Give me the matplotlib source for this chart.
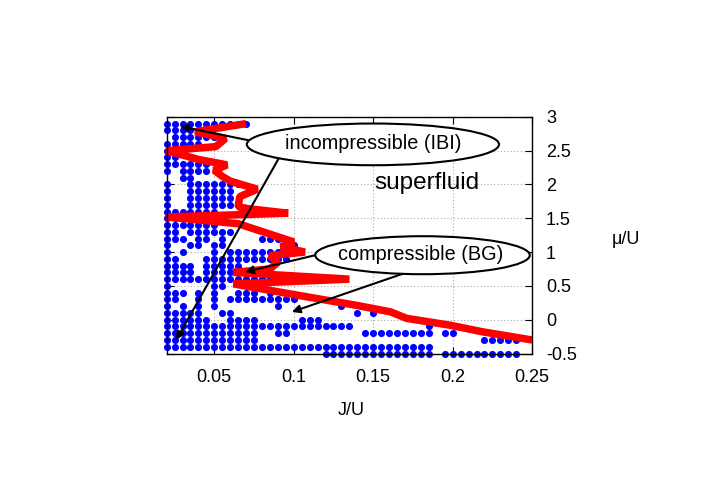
import numpy as np
import matplotlib
matplotlib.use("Agg")
import matplotlib.pyplot as plt
from matplotlib.patches import Ellipse

plt.rcParams['font.family'] = ['Liberation Sans', 'DejaVu Sans']

# ---- data -------------------------------------------------------------
J_start = 0.02
J_step = 0.005
# rows of the dot grid: mu value and list of (first, last) column indices
mu_rows = [2.9, 2.8, 2.7, 2.6, 2.5, 2.4, 2.3, 2.2, 2.1, 2.0, 1.9, 1.8, 1.7,
           1.6, 1.5, 1.4, 1.3, 1.2, 1.1, 1.0, 0.9, 0.8, 0.7, 0.6, 0.5, 0.4,
           0.3, 0.2, 0.1, 0.0, -0.1, -0.2, -0.3, -0.4, -0.5]
row_cols = [
    [(0, 10)],
    [(0, 3)],
    [(1, 6)],
    [(0, 4)],
    [(0, 2)],
    [(0, 1)],
    [(0, 5)],
    [(0, 0), (2, 5)],
    [(2, 3)],
    [(0, 0), (3, 9)],
    [(0, 0), (3, 8)],
    [(0, 0), (3, 8)],
    [(0, 0), (3, 9)],
    [(0, 6)],
    [(0, 3)],
    [(0, 6)],
    [(0, 1), (3, 8)],
    [(0, 2), (4, 5), (7, 7), (12, 14)],
    [(0, 0), (3, 4), (6, 7), (15, 16)],
    [(0, 0), (2, 2), (6, 6), (8, 14)],
    [(0, 1), (5, 15)],
    [(0, 3), (5, 9)],
    [(0, 3), (5, 9)],
    [(0, 17)],
    [(0, 0), (6, 7)],
    [(0, 2), (4, 4), (6, 6), (9, 11), (13, 13)],
    [(0, 1), (4, 4), (6, 6), (8, 16)],
    [(0, 0), (2, 2), (4, 4), (6, 6), (14, 14), (22, 22)],
    [(0, 4), (7, 8), (24, 24), (26, 26)],
    [(0, 5), (8, 11), (17, 19)],
    [(0, 23), (33, 33)],
    [(0, 11), (14, 15), (25, 33), (35, 36)],
    [(0, 11), (40, 44)],
    [(0, 33)],
    [(20, 33), (35, 44)],
]

# phase boundary (red line)
boundary_J = [0.070, 0.038, 0.057, 0.051, 0.020, 0.040, 0.058, 0.050, 0.055,
              0.060, 0.077, 0.066, 0.065, 0.072, 0.0965, 0.020, 0.065, 0.100,
              0.092, 0.107, 0.085, 0.090, 0.085, 0.062, 0.135, 0.062, 0.098,
              0.140, 0.161, 0.171, 0.198, 0.219, 0.250]
boundary_mu = [2.90, 2.78, 2.68, 2.56, 2.50, 2.37, 2.29, 2.21, 2.12,
               2.05, 1.93, 1.82, 1.67, 1.64, 1.575, 1.52, 1.42, 1.15,
               1.08, 1.00, 0.95, 0.85, 0.75, 0.70, 0.60, 0.53, 0.38,
               0.21, 0.115, 0.02, -0.08, -0.18, -0.30]

x_ticks = [0.05, 0.1, 0.15, 0.2, 0.25]
x_tick_labels = ['0.05', '0.1', '0.15', '0.2', '0.25']
y_ticks = [-0.5, 0, 0.5, 1, 1.5, 2, 2.5, 3]
y_tick_labels = ['-0.5', '0', '0.5', '1', '1.5', '2', '2.5', '3']

# ---- build dots ---------------------------------------------------------
dots_x, dots_y = [], []
for mu, ranges in zip(mu_rows, row_cols):
    for a, b in ranges:
        for c in range(a, b + 1):
            dots_x.append(J_start + J_step * c)
            dots_y.append(mu)

fig = plt.figure(figsize=(7.03, 4.91), dpi=100)
ax = fig.add_axes([0.237, 0.280, 0.520, 0.482])

ax.scatter(dots_x, dots_y, s=26, color='#0000ff', linewidths=0, zorder=3,
           clip_on=False)
ax.plot(boundary_J, boundary_mu, color='#ff0000', lw=5.4, zorder=4,
        solid_joinstyle='bevel', solid_capstyle='butt', clip_on=False)

ax.set_xlim(0.02, 0.25)
ax.set_ylim(-0.5, 3)
ax.set_xticks(x_ticks)
ax.set_xticklabels(x_tick_labels)
ax.set_yticks(y_ticks)
ax.set_yticklabels(y_tick_labels)
ax.yaxis.tick_right()
ax.tick_params(axis='both', direction='in', length=5, width=0.8,
               labelsize=13, top=True, bottom=True, left=True, right=True,
               labelleft=False, labelright=True)
ax.tick_params(axis='x', pad=11)
ax.tick_params(axis='y', pad=10)
ax.grid(True, color='#aaaaaa', linestyle=(0, (1, 2)), linewidth=0.8)
ax.set_axisbelow(True)
for s in ax.spines.values():
    s.set_linewidth(1.0)
    s.set_zorder(5)

fig.text(0.5, 0.163, 'J/U', ha='center', va='center', fontsize=13)
fig.text(0.89, 0.512, 'μ/U', ha='center', va='center', fontsize=13)

# annotations
ax.text(0.184, 2.02, 'superfluid', ha='center', va='center', fontsize=17.5,
        zorder=6)

e1 = Ellipse((0.1498, 2.593), 0.1587, 0.617, facecolor='white',
             edgecolor='black', lw=1.5, zorder=7, clip_on=False)
ax.add_patch(e1)
ax.text(0.1498, 2.60, 'incompressible (IBI)', ha='center', va='center',
        fontsize=14.3, zorder=8)
e2 = Ellipse((0.181, 0.954), 0.135, 0.562, facecolor='white',
             edgecolor='black', lw=1.5, zorder=7, clip_on=False)
ax.add_patch(e2)
ax.text(0.180, 0.96, 'compressible (BG)', ha='center', va='center',
        fontsize=14.3, zorder=8)

arrowprops = dict(arrowstyle='-|>', color='black', lw=1.5,
                  mutation_scale=12, shrinkA=0, shrinkB=0)
ax.annotate('', xy=(0.0284, 2.86), xytext=(0.0713, 2.655),
            arrowprops=arrowprops, zorder=6)
ax.annotate('', xy=(0.026, -0.30), xytext=(0.0904, 2.38),
            arrowprops=arrowprops, zorder=6)
ax.annotate('', xy=(0.0694, 0.707), xytext=(0.1135, 0.954),
            arrowprops=arrowprops, zorder=6)
ax.annotate('', xy=(0.0988, 0.115), xytext=(0.169, 0.683),
            arrowprops=arrowprops, zorder=6)

fig.savefig('out.png', dpi=100)
